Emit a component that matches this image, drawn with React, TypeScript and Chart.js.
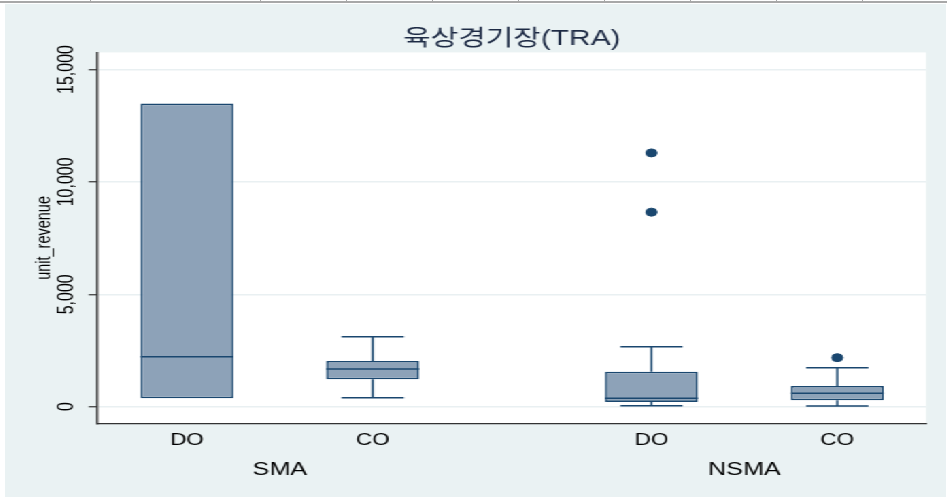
import React, { useEffect, useRef } from 'react';
import { Chart, registerables } from 'chart.js';

Chart.register(...registerables);

// ---- data ----
const groups = ['SMA', 'NSMA'];
const categories = ['DO', 'CO', 'DO', 'CO'];
const groupOfBox = [0, 0, 1, 1];
const lowerWhisker = [373, 400, 44, 31];
const q1 = [373, 1218, 209, 284];
const median = [2222, 1676, 373, 596];
const q3 = [13484, 2031, 1556, 920];
const upperWhisker = [13484, 3111, 2667, 1733];
const outliers: number[][] = [[], [], [11289, 8653], [2178]];
const yTickValues = [0, 5000, 10000, 15000];
const yMin = -750;
const yMax = 15760;
const titleText = '육상경기장(TRA)';
const yTitle = 'unit_revenue';

// ---- layout (not data) ----
const SLOT = [0, 2, 5, 7];
const X_MIN = -0.96;
const X_MAX = 7.955;
const CAP_HALF = 0.335;
const BOX_HALF = 0.5;
const STRETCH = 1.36;
const CW = 692;
const CH = 493;

const FONT = "'Liberation Sans', Arial, 'Noto Sans CJK KR', sans-serif";
const NAVY = '#1A476F';

const groupCenters = groups.map((_, g) => {
  const s = SLOT.filter((_, i) => groupOfBox[i] === g);
  return s.reduce((a, b) => a + b, 0) / s.length;
});

const plotBg = {
  id: 'plotBg',
  beforeDraw(chart: any) {
    const { ctx, chartArea: a } = chart;
    ctx.save();
    ctx.fillStyle = '#ffffff';
    ctx.fillRect(a.left, a.top, a.right - a.left, a.bottom - a.top);
    ctx.restore();
  },
};

export default function App() {
  const ref = useRef<HTMLCanvasElement | null>(null);

  useEffect(() => {
    if (!ref.current) return;

    const boxes = categories.map((_, i) => ({ x: SLOT[i], y: [q1[i], q3[i]] }));

    const whiskers: any[] = [];
    categories.forEach((_, i) => {
      const s = SLOT[i];
      if (upperWhisker[i] > q3[i]) {
        whiskers.push(
          { x: s - CAP_HALF, y: upperWhisker[i] },
          { x: s + CAP_HALF, y: upperWhisker[i] },
          { x: s, y: null },
          { x: s, y: upperWhisker[i] },
          { x: s, y: q3[i] },
          { x: s, y: null }
        );
      }
      if (lowerWhisker[i] < q1[i]) {
        whiskers.push(
          { x: s, y: q1[i] },
          { x: s, y: lowerWhisker[i] },
          { x: s, y: null },
          { x: s - CAP_HALF, y: lowerWhisker[i] },
          { x: s + CAP_HALF, y: lowerWhisker[i] },
          { x: s, y: null }
        );
      }
    });

    const medians: any[] = [];
    categories.forEach((_, i) => {
      const s = SLOT[i];
      medians.push(
        { x: s - BOX_HALF, y: median[i] },
        { x: s + BOX_HALF, y: median[i] },
        { x: s, y: null }
      );
    });

    const outlierPts: any[] = [];
    outliers.forEach((arr, i) => arr.forEach((v) => outlierPts.push({ x: SLOT[i], y: v })));

    const chart = new Chart(ref.current, {
      type: 'bar',
      data: {
        datasets: [
          {
            type: 'bar',
            data: boxes as any,
            backgroundColor: '#8DA2B8',
            borderColor: NAVY,
            borderWidth: 1.6,
            borderSkipped: false,
            barPercentage: 0.5,
            categoryPercentage: 1,
            xAxisID: 'x',
            yAxisID: 'y',
            order: 3,
          } as any,
          {
            type: 'line',
            data: whiskers,
            borderColor: NAVY,
            borderWidth: 1.5,
            pointRadius: 0,
            spanGaps: false,
            fill: false,
            xAxisID: 'x',
            yAxisID: 'y',
            order: 2,
          } as any,
          {
            type: 'line',
            data: medians,
            borderColor: NAVY,
            borderWidth: 1.5,
            pointRadius: 0,
            spanGaps: false,
            fill: false,
            xAxisID: 'x',
            yAxisID: 'y',
            order: 1,
          } as any,
          {
            type: 'scatter',
            data: outlierPts,
            backgroundColor: NAVY,
            borderColor: NAVY,
            borderWidth: 1,
            pointRadius: 4,
            showLine: false,
            xAxisID: 'x',
            yAxisID: 'y',
            order: 0,
          } as any,
        ],
      },
      options: {
        responsive: false,
        animation: false,
        devicePixelRatio: 1,
        layout: { padding: { left: 0, right: 14.8, top: 0, bottom: 13.5 } },
        plugins: {
          legend: { display: false },
          tooltip: { enabled: false },
          title: {
            display: true,
            text: titleText,
            fullSize: false,
            color: '#1E2B45',
            font: { family: FONT, size: 22, weight: 'normal' },
            padding: { top: 22, bottom: 0 },
          },
        },
        scales: {
          x: {
            type: 'linear',
            position: 'bottom',
            offset: false,
            min: X_MIN,
            max: X_MAX,
            weight: 0,
            afterBuildTicks: (s: any) => {
              s.ticks = SLOT.map((v) => ({ value: v }));
            },
            ticks: {
              autoSkip: false,
              minRotation: 0,
              maxRotation: 0,
              padding: 7.4,
              color: '#000',
              font: { family: FONT, size: 16.5 },
              callback: (_v: any, i: number) => categories[i],
            },
            grid: { display: false, drawTicks: false, offset: false },
            border: { display: true, color: '#333', width: 1.3 },
            afterFit: (s: any) => {
              s.height = 30;
            },
          } as any,
          x2: {
            type: 'linear',
            axis: 'x',
            position: 'bottom',
            offset: false,
            min: X_MIN,
            max: X_MAX,
            weight: 1,
            afterBuildTicks: (s: any) => {
              s.ticks = groupCenters.map((v) => ({ value: v }));
            },
            ticks: {
              autoSkip: false,
              minRotation: 0,
              maxRotation: 0,
              padding: 4.9,
              color: '#000',
              font: { family: FONT, size: 18.5 },
              callback: (_v: any, i: number) => groups[i],
            },
            grid: { display: false, drawTicks: false, offset: false },
            border: { display: false },
            afterFit: (s: any) => {
              s.height = 30;
            },
          } as any,
          y: {
            type: 'linear',
            min: yMin,
            max: yMax,
            afterBuildTicks: (s: any) => {
              s.ticks = yTickValues.map((v) => ({ value: v }));
            },
            ticks: {
              minRotation: 90,
              maxRotation: 90,
              crossAlign: 'center',
              padding: -8.4,
              color: '#000',
              font: { family: FONT, size: 16 },
              callback: (v: any) => Number(v).toLocaleString('en-US'),
            },
            grid: {
              color: '#E9F0F2',
              lineWidth: 1.5,
              drawTicks: true,
              tickLength: 6.6,
              tickColor: '#333',
              tickWidth: 1.2,
            },
            border: { display: true, color: '#333', width: 1.5 },
            title: {
              display: true,
              text: yTitle,
              color: '#000',
              font: { family: FONT, size: 14.5 },
              padding: { top: 20.5, bottom: 0 },
            },
            afterFit: (s: any) => {
              s.width = 68.2;
            },
          } as any,
        },
      },
      plugins: [plotBg],
    });

    return () => chart.destroy();
  }, []);

  const seps = [90, 260, 346, 432, 518, 604, 690, 776, 862];

  return (
    <div
      style={{
        position: 'absolute',
        left: 0,
        top: 0,
        width: 947,
        height: 498,
        background: '#ffffff',
        overflow: 'hidden',
      }}
    >
      <div style={{ position: 'absolute', left: 0, top: 1, width: 947, height: 2, background: '#A8A8A8' }} />
      {seps.map((x) => (
        <div key={x} style={{ position: 'absolute', left: x, top: 0, width: 1, height: 2, background: '#A8A8A8' }} />
      ))}
      <div
        style={{
          position: 'absolute',
          left: 5,
          top: 4,
          width: CW,
          height: CH,
          background: '#EAF2F3',
          transform: `scaleX(${STRETCH})`,
          transformOrigin: '0 0',
        }}
      >
        <canvas
          ref={ref}
          width={CW}
          height={CH}
          style={{ display: 'block', width: CW, height: CH }}
        />
      </div>
    </div>
  );
}
